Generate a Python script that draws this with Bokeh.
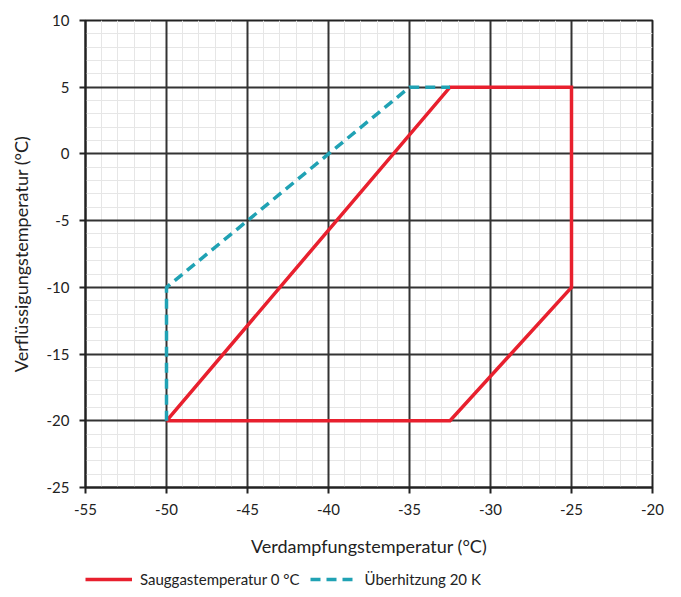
from bokeh.plotting import figure
from bokeh.layouts import column
from bokeh.models import Legend, LegendItem, FixedTicker, Range1d, Grid
from bokeh.embed import file_html
from bokeh.resources import INLINE

# Data
red_x = [-50, -32.5, -25, -25, -32.5, -50]
red_y = [-20, 5, 5, -10, -20, -20]
teal_x = [-50, -50, -35, -32.5]
teal_y = [-20, -10, 5, 5]
x_ticks = [-55, -50, -45, -40, -35, -30, -25, -20]
y_ticks = [-25, -20, -15, -10, -5, 0, 5, 10]
x_minor = [v for v in range(-55, -19) if v % 5]
y_minor = [v for v in range(-25, 11) if v % 5]
red_label = "Sauggastemperatur 0 °C"
teal_label = "Überhitzung 20 K"

FONT = "Lato"
RED = "#e8202e"
TEAL = "#20a2b4"

p = figure(width=670, height=559, output_backend="svg", toolbar_location=None,
           x_range=Range1d(-55, -20), y_range=Range1d(-25, 10),
           min_border_left=85, min_border_right=18, min_border_top=20, min_border_bottom=68)

p.background_fill_color = "white"
p.border_fill_color = "white"
p.outline_line_color = "#222222"
p.outline_line_width = 2

for ax in (p.xaxis, p.yaxis):
    ax.axis_line_color = "#222222"
    ax.axis_line_width = 2
    ax.major_tick_line_color = "#222222"
    ax.major_tick_line_width = 2
    ax.major_tick_out = 6
    ax.major_tick_in = 0
    ax.minor_tick_line_color = None
    ax.major_label_text_font = FONT
    ax.major_label_text_font_size = "15px"
    ax.major_label_text_color = "#222222"
    ax.axis_label_text_font = FONT
    ax.axis_label_text_font_size = "18px"
    ax.axis_label_text_font_style = "normal"
    ax.axis_label_text_color = "#222222"

p.xaxis.axis_label = "Verdampfungstemperatur (°C)"
p.yaxis.axis_label = "Verflüssigungstemperatur (°C)"
p.xaxis.major_label_standoff = 10
p.yaxis.major_label_standoff = 10
p.xaxis.axis_label_standoff = 17
p.yaxis.axis_label_standoff = 12
p.xaxis.major_label_overrides = {t: str(t) for t in x_ticks}
p.yaxis.major_label_overrides = {t: str(t) for t in y_ticks}

p.xaxis.ticker = FixedTicker(ticks=x_ticks)
p.yaxis.ticker = FixedTicker(ticks=y_ticks)

for g in (p.xgrid, p.ygrid):
    g.grid_line_color = "#333333"
    g.grid_line_width = 2
    g.level = "underlay"

p.xgrid.ticker = FixedTicker(ticks=x_ticks)
p.ygrid.ticker = FixedTicker(ticks=y_ticks)

# faint minor grid, drawn before the major grid
minor_x = Grid(dimension=0, ticker=FixedTicker(ticks=x_minor), grid_line_color="#e6e6e6",
               grid_line_width=1, level="underlay")
minor_y = Grid(dimension=1, ticker=FixedTicker(ticks=y_minor), grid_line_color="#e6e6e6",
               grid_line_width=1, level="underlay")
p.center = [minor_x, minor_y] + list(p.center)

p.line(red_x, red_y, line_color=RED, line_width=3.5, line_join="miter")
p.line(teal_x, teal_y, line_color=TEAL, line_width=3.5, line_dash="10 6")

# legend strip below the chart (its frame aligns with the chart frame)
lg = figure(width=670, height=38, output_backend="svg", toolbar_location=None,
            x_range=Range1d(0, 1), y_range=Range1d(0, 1),
            x_axis_location=None, y_axis_location=None,
            min_border=0, outline_line_color=None)
lg.grid.visible = False
l_red = lg.line([5, 6], [5, 6], line_color=RED, line_width=3.5)
l_teal = lg.line([5, 6], [5, 6], line_color=TEAL, line_width=3.5, line_dash="10 6")
legend = Legend(items=[LegendItem(label=red_label, renderers=[l_red]),
                       LegendItem(label=teal_label, renderers=[l_teal])],
                orientation="horizontal", location=(0, 9),
                label_text_font=FONT, label_text_font_size="15px", label_text_color="#222222",
                glyph_width=47, glyph_height=16, spacing=10, padding=0, margin=0,
                border_line_color=None, background_fill_color=None, label_standoff=8)
lg.add_layout(legend, "center")

open("out.html", "w").write(file_html(column(p, lg), INLINE))
